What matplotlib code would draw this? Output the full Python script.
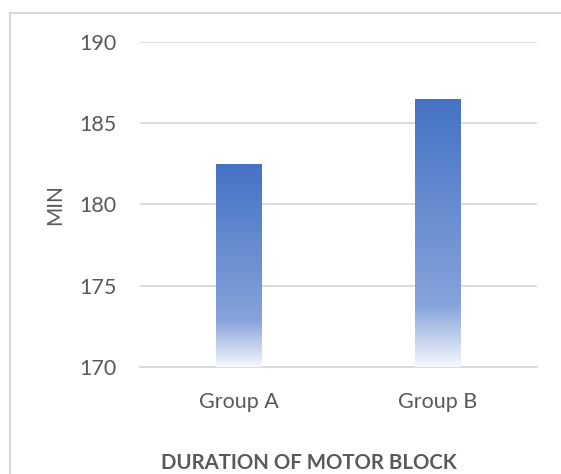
import matplotlib.pyplot as plt
import numpy as np
from matplotlib.colors import LinearSegmentedColormap
from matplotlib.patches import Rectangle

# --- Data ---
groups = ['Group A', 'Group B']
durations = [182.5, 186.5]
y_ticks = [170, 175, 180, 185, 190]

text_gray = '#595959'
grid_gray = '#D9D9D9'

# Excel-style gradient fill: solid blue on top fading to white at the base
bar_cmap = LinearSegmentedColormap.from_list(
    'bar_fade',
    [(0.0, '#4472C4'), (0.77, '#86A3DB'), (1.0, '#F5F8FD')]
)

plt.rcParams['font.family'] = ['Lato', 'DejaVu Sans']

fig = plt.figure(figsize=(5.61, 4.74), dpi=100)
ax = fig.add_axes([0.2487, 0.2257, 0.9567 - 0.2487, 0.9118 - 0.2257])

x = np.arange(len(groups))
width = 0.227
ymin, ymax = y_ticks[0], y_ticks[-1]

bars = ax.bar(x, [d - ymin for d in durations], width, bottom=ymin,
              color='none', edgecolor='none', zorder=3)

# paint the gradient into each bar and clip it to the bar outline
grad = np.linspace(0, 1, 256).reshape(-1, 1)
for rect in bars:
    x0 = rect.get_x()
    y0 = rect.get_y()
    img = ax.imshow(grad, cmap=bar_cmap, aspect='auto', origin='upper',
                    extent=[x0, x0 + rect.get_width(), y0, y0 + rect.get_height()],
                    zorder=3, interpolation='bilinear')
    img.set_clip_path(rect)

ax.set_xlim(-0.5, len(groups) - 0.5)
ax.set_ylim(ymin, ymax)
ax.set_yticks(y_ticks)
ax.set_xticks(x)
ax.set_xticklabels(groups)

ax.grid(axis='y', color=grid_gray, linewidth=1.3, zorder=0)
ax.set_axisbelow(True)
for side in ['top', 'right', 'left']:
    ax.spines[side].set_visible(False)
ax.spines['bottom'].set_color(grid_gray)
ax.spines['bottom'].set_linewidth(1.3)

ax.tick_params(axis='both', length=0, labelsize=15.5, colors=text_gray)
ax.tick_params(axis='y', pad=16.5)
ax.tick_params(axis='x', pad=18)

ax.set_ylabel('MIN', fontsize=15, color=text_gray)
ax.yaxis.set_label_coords(-0.188, 0.5)

fig.text(0.551, 0.023, 'DURATION OF MOTOR BLOCK', ha='center', va='center',
         fontsize=14.7, fontweight='bold', color=text_gray)

# chart frame
fig.patches.append(Rectangle((9.5 / 561, -0.1), 1.2, 0.1 + 1 - 13 / 474,
                             transform=fig.transFigure, fill=False,
                             edgecolor=grid_gray, linewidth=1.5))

fig.savefig('out.png', dpi=100)
